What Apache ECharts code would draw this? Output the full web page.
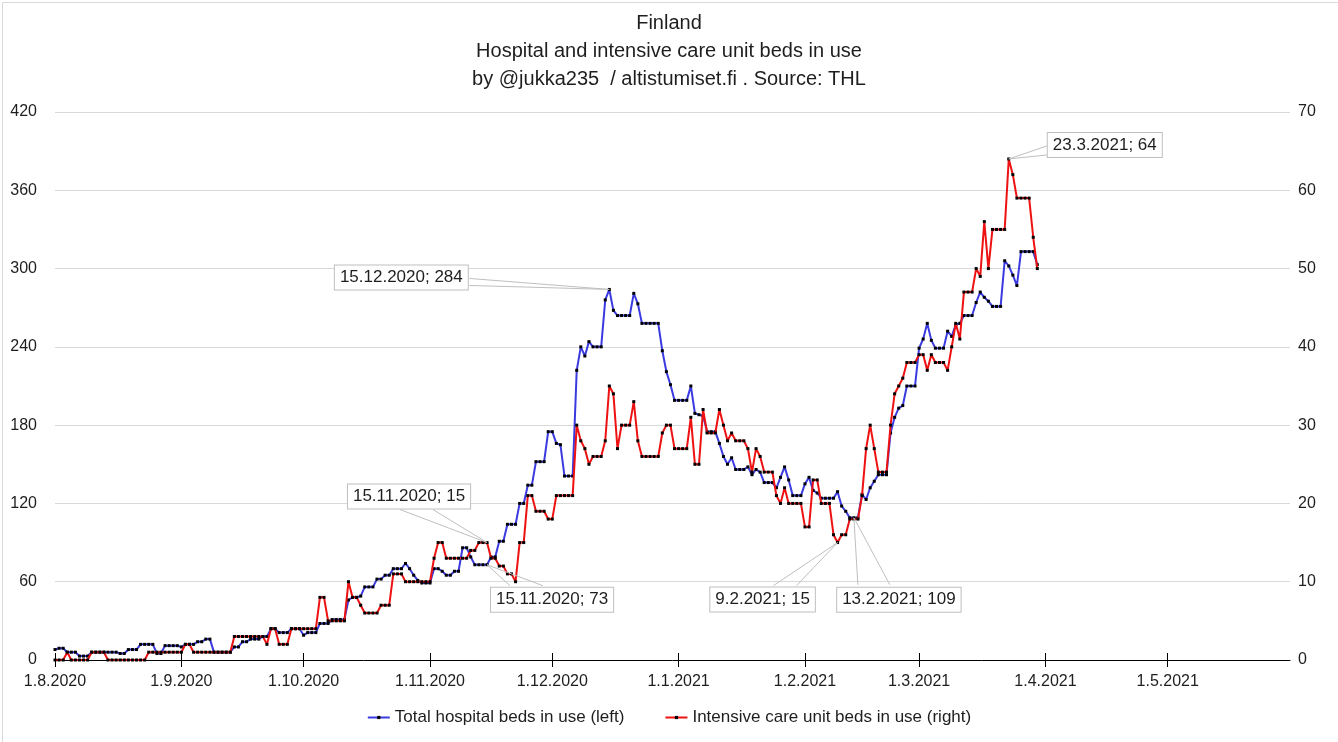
<!DOCTYPE html>
<html>
<head>
<meta charset="utf-8">
<script src="https://cdn.jsdelivr.net/npm/echarts@6/dist/echarts.min.js"></script>
<style>
html,body{margin:0;padding:0;background:#fff;}
#chart{width:1338px;height:742px;}
</style>
</head>
<body>
<div id="chart"></div>
<script>
// ---- DATA ----
const titleLines = ['Finland', 'Hospital and intensive care unit beds in use', 'by @jukka235  / altistumiset.fi . Source: THL'];
const seriesNames = ['Total hospital beds in use (left)', 'Intensive care unit beds in use (right)'];
const axisStart = [2020, 8, 1];   // first day on the x axis (d.m.yyyy = 1.8.2020)
const axisDayCount = 304;         // 1.8.2020 .. 31.5.2021
const leftTicks = [0, 60, 120, 180, 240, 300, 360, 420];
const rightTicks = [0, 10, 20, 30, 40, 50, 60, 70];

// daily values from 1.8.2020 to 30.3.2021
const hospitalBeds = [
  8, 9, 9, 6, 6, 6, 3, 3, 3, 6,
  6, 6, 6, 6, 6, 6, 5, 5, 8, 8,
  8, 12, 12, 12, 12, 5, 5, 11, 11, 11,
  11, 10, 12, 12, 12, 14, 14, 16, 16, 6,
  6, 6, 6, 6, 10, 10, 14, 14, 16, 16,
  16, 18, 18, 24, 24, 21, 21, 21, 24, 24,
  24, 19, 21, 21, 21, 28, 28, 28, 31, 31,
  31, 31, 46, 48, 48, 49, 56, 56, 56, 62,
  62, 65, 65, 70, 70, 70, 74, 70, 65, 61,
  59, 59, 59, 70, 70, 68, 65, 65, 68, 68,
  86, 86, 79, 73, 73, 73, 73, 79, 79, 91,
  91, 104, 104, 104, 120, 120, 134, 134, 152, 152,
  152, 175, 175, 166, 165, 141, 141, 141, 222, 240,
  233, 244, 240, 240, 240, 276, 284, 268, 264, 264,
  264, 264, 281, 273, 258, 258, 258, 258, 258, 237,
  221, 211, 199, 199, 199, 199, 210, 189, 188, 187,
  175, 175, 175, 166, 156, 150, 155, 146, 146, 146,
  148, 142, 146, 144, 136, 136, 136, 132, 140, 148,
  138, 126, 126, 126, 135, 140, 130, 128, 124, 124,
  124, 124, 129, 118, 114, 109, 109, 109, 127, 123,
  132, 137, 142, 142, 142, 174, 186, 193, 195, 210,
  210, 210, 239, 246, 258, 245, 239, 239, 239, 252,
  248, 257, 258, 264, 264, 264, 274, 282, 278, 275,
  271, 271, 271, 306, 302, 295, 287, 313, 313, 313,
  313, 303
];
const icuBeds = [
  0, 0, 0, 1, 0, 0, 0, 0, 0, 1,
  1, 1, 1, 0, 0, 0, 0, 0, 0, 0,
  0, 0, 0, 1, 1, 1, 1, 1, 1, 1,
  1, 1, 2, 2, 1, 1, 1, 1, 1, 1,
  1, 1, 1, 1, 3, 3, 3, 3, 3, 3,
  3, 3, 2, 4, 4, 2, 2, 2, 4, 4,
  4, 4, 4, 4, 4, 8, 8, 5, 5, 5,
  5, 5, 10, 8, 8, 7, 6, 6, 6, 6,
  7, 7, 7, 11, 11, 11, 10, 10, 10, 10,
  10, 10, 10, 13, 15, 15, 13, 13, 13, 13,
  13, 13, 14, 14, 15, 15, 15, 13, 13, 12,
  12, 11, 11, 10, 15, 15, 21, 21, 19, 19,
  19, 18, 18, 21, 21, 21, 21, 21, 30, 28,
  27, 25, 26, 26, 26, 28, 35, 34, 27, 30,
  30, 30, 33, 28, 26, 26, 26, 26, 26, 29,
  30, 30, 27, 27, 27, 27, 31, 25, 25, 32,
  29, 29, 29, 32, 30, 28, 29, 28, 28, 28,
  27, 24, 27, 26, 24, 24, 24, 21, 20, 22,
  20, 20, 20, 20, 17, 17, 23, 23, 20, 20,
  20, 16, 15, 16, 16, 18, 18, 18, 21, 27,
  30, 27, 24, 24, 24, 30, 34, 35, 36, 38,
  38, 38, 39, 39, 37, 39, 38, 38, 38, 37,
  40, 43, 41, 47, 47, 47, 50, 49, 56, 50,
  55, 55, 55, 55, 64, 62, 59, 59, 59, 59,
  54, 50
];
// data callouts: which series and which date
const calloutPoints = [
  { series: 0, date: '15.12.2020' },
  { series: 1, date: '15.11.2020' },
  { series: 0, date: '15.11.2020' },
  { series: 1, date: '9.2.2021' },
  { series: 0, date: '13.2.2021' },
  { series: 1, date: '23.3.2021' }
];

// ---- LAYOUT (callout box centre and leader attach points, relative to the point) ----
const calloutLayout = [
  { box: [-208, -12], attach: [[-140, -11], [-140, -4]] },
  { box: [-78, -46], attach: [[-87, -33], [-54, -33]] },
  { box: [65, 35], attach: [[23, 21], [56, 21]] },
  { box: [-75, 57], attach: [[-64, 43], [-41, 43]] },
  { box: [45, 82], attach: [[4, 67], [36, 67]] },
  { box: [96, -14], attach: [[38, -13], [38, -4]] }
];

// ---- BUILD ----
const categories = [];
{
  const t0 = Date.UTC(axisStart[0], axisStart[1] - 1, axisStart[2]);
  for (let i = 0; i < axisDayCount; i++) {
    const d = new Date(t0 + i * 86400000);
    categories.push(d.getUTCDate() + '.' + (d.getUTCMonth() + 1) + '.' + d.getUTCFullYear());
  }
}
const isMonthStart = (idx) => categories[idx] && categories[idx].startsWith('1.');

const FONT = 'Liberation Sans, Arial, sans-serif';
const TXT = '#1e1e1e';
const BLUE = '#3a3ae0';
const RED = '#ee1111';

const chart = echarts.init(document.getElementById('chart'));
chart.setOption({
  animation: false,
  backgroundColor: '#fff',
  textStyle: { fontFamily: FONT },
  title: {
    text: titleLines.join('\n'),
    left: 'center', top: 4,
    textStyle: { fontSize: 20, fontWeight: 'normal', color: TXT, lineHeight: 28, fontFamily: FONT }
  },
  legend: {
    bottom: 11, left: 'center',
    itemWidth: 22, itemHeight: 4, itemGap: 40,
    textStyle: { fontSize: 17, color: TXT, fontFamily: FONT },
    data: seriesNames
  },
  grid: { left: 55, right: 48, top: 112, bottom: 82, containLabel: false },
  xAxis: [{
    type: 'category', data: categories, boundaryGap: false,
    axisLine: { lineStyle: { color: '#000', width: 1 } },
    axisTick: { show: true, length: 7, lineStyle: { color: '#000' }, interval: (i) => isMonthStart(i) },
    axisLabel: { interval: (i) => isMonthStart(i), fontSize: 16, color: TXT, margin: 14, fontFamily: FONT },
    splitLine: { show: false }
  }, {
    type: 'category', data: categories, boundaryGap: false, position: 'bottom',
    axisLine: { show: false },
    axisTick: { show: true, inside: true, length: 7, lineStyle: { color: '#000' }, interval: (i) => isMonthStart(i) },
    axisLabel: { show: false },
    splitLine: { show: false }
  }],
  yAxis: [{
    type: 'value', position: 'left', min: leftTicks[0], max: leftTicks[leftTicks.length - 1],
    interval: leftTicks[1] - leftTicks[0],
    axisLine: { show: false }, axisTick: { show: false },
    axisLabel: { fontSize: 16, color: TXT, margin: 18, fontFamily: FONT },
    splitLine: { lineStyle: { color: '#d9d9d9', width: 1 } }
  }, {
    type: 'value', position: 'right', min: rightTicks[0], max: rightTicks[rightTicks.length - 1],
    interval: rightTicks[1] - rightTicks[0],
    axisLine: { show: false }, axisTick: { show: false },
    axisLabel: { fontSize: 16, color: TXT, margin: 8, fontFamily: FONT },
    splitLine: { show: false }
  }],
  series: [{
    name: seriesNames[0], type: 'line', xAxisIndex: 0, yAxisIndex: 0,
    data: hospitalBeds,
    symbol: 'rect', symbolSize: 3, showAllSymbol: true,
    itemStyle: { color: '#000' },
    lineStyle: { color: BLUE, width: 2 },
    emphasis: { disabled: true }, z: 2
  }, {
    name: seriesNames[1], type: 'line', xAxisIndex: 0, yAxisIndex: 1,
    data: icuBeds,
    symbol: 'rect', symbolSize: 3, showAllSymbol: true,
    itemStyle: { color: '#000' },
    lineStyle: { color: RED, width: 2 },
    emphasis: { disabled: true }, z: 3
  }]
});

// callouts
const seriesData = [hospitalBeds, icuBeds];
const graphics = [{
  type: 'rect', left: 0, top: 0, z: -10, silent: true,
  shape: { x: 0.5, y: 0.5, width: 1337, height: 741 },
  style: { fill: null, stroke: '#d9d9d9', lineWidth: 1 }
}];
calloutPoints.forEach((p, k) => {
  const idx = categories.indexOf(p.date);
  const val = seriesData[p.series][idx];
  const pt = chart.convertToPixel({ xAxisIndex: 0, yAxisIndex: p.series }, [idx, val]);
  const lay = calloutLayout[k];
  const a = lay.attach;
  graphics.push({
    type: 'polyline', z: 50, silent: true,
    shape: { points: [[pt[0] + a[0][0], pt[1] + a[0][1]], [pt[0], pt[1]], [pt[0] + a[1][0], pt[1] + a[1][1]]] },
    style: { stroke: '#bfbfbf', fill: null, lineWidth: 1 }
  });
  graphics.push({
    type: 'text', z: 60, silent: true,
    x: pt[0] + lay.box[0], y: pt[1] + lay.box[1],
    style: {
      text: p.date + '; ' + val,
      fill: TXT, fontSize: 17, fontFamily: FONT,
      align: 'center', verticalAlign: 'middle',
      backgroundColor: '#fff', borderColor: '#bfbfbf', borderWidth: 1,
      padding: [4, 5, 3, 5]
    }
  });
});
chart.setOption({ graphic: graphics });
</script>
</body>
</html>
